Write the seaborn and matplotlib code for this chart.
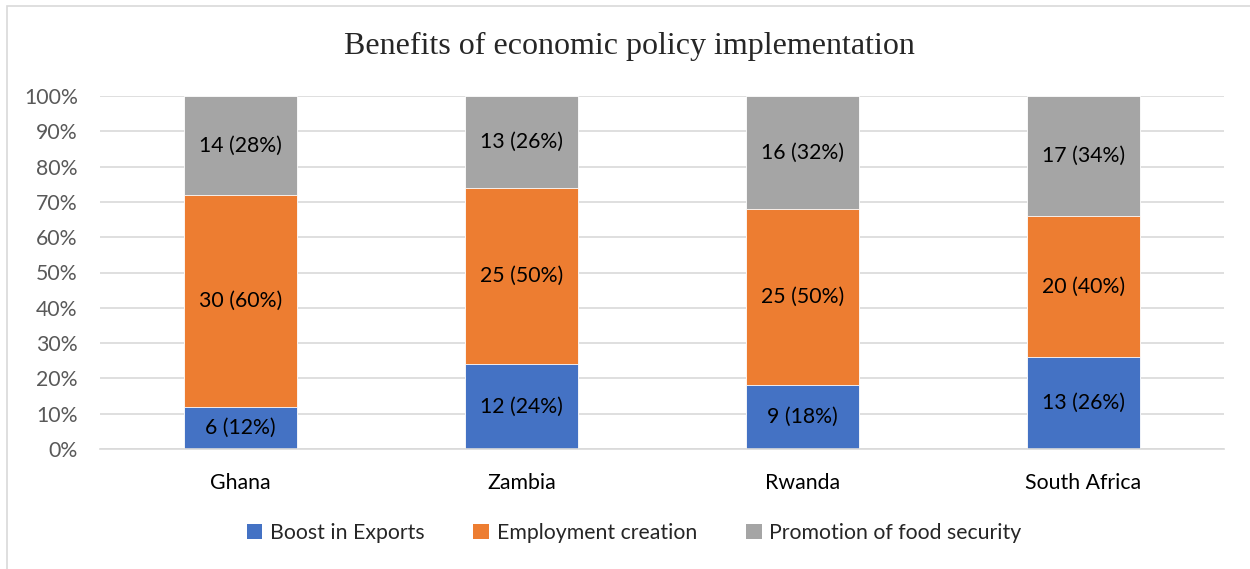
import matplotlib
matplotlib.use("Agg")
import matplotlib.pyplot as plt
from matplotlib.patches import Rectangle, Patch
import numpy as np
import pandas as pd
import seaborn as sns

countries = ["Ghana", "Zambia", "Rwanda", "South Africa"]
series_names = ["Boost in Exports", "Employment creation", "Promotion of food security"]
boost_exports = [6, 12, 9, 13]
employment = [30, 25, 25, 20]
food_security = [14, 13, 16, 17]
colors = ["#4472C4", "#ED7D31", "#A5A5A5"]
ytick_labels = ["0%", "10%", "20%", "30%", "40%", "50%", "60%", "70%", "80%", "90%", "100%"]

sns.set_theme(style="white")
plt.rcParams["font.family"] = ["Lato", "DejaVu Sans"]

counts = np.array([boost_exports, employment, food_security], dtype=float)
totals = counts.sum(axis=0)
shares = counts / totals * 100
cum = np.cumsum(shares, axis=0)

FS = 15.3

fig = plt.figure(figsize=(12.5, 5.69), dpi=100)
ax = fig.add_axes([100 / 1250, 1 - 449 / 569, 1124 / 1250, 353 / 569])

# stacked bars: draw the tallest cumulative layer first, smaller ones on top
for i in reversed(range(len(series_names))):
    df = pd.DataFrame({"country": countries, "value": cum[i]})
    sns.barplot(data=df, x="country", y="value", color=colors[i], width=0.4,
                saturation=1, ax=ax, edgecolor="white", linewidth=0.6)

# value labels centred in each segment
for i in range(len(series_names)):
    for j in range(len(countries)):
        mid = cum[i, j] - shares[i, j] / 2
        ax.text(j, mid, f"{int(counts[i, j])} ({shares[i, j]:.0f}%)",
                ha="center", va="center", fontsize=FS, color="black")

ax.set_xlim(-0.5, 3.5)
ax.set_ylim(0, 100)
ax.set_yticks(np.arange(0, 101, 10))
ax.set_yticklabels(ytick_labels)
ax.yaxis.grid(True, color="#D9D9D9", linewidth=1.2)
ax.set_axisbelow(True)
for s in ["top", "right", "left"]:
    ax.spines[s].set_visible(False)
ax.spines["bottom"].set_color("#D9D9D9")
ax.spines["bottom"].set_linewidth(1.2)
ax.tick_params(axis="y", labelsize=FS, labelcolor="#595959", length=0, pad=16)
ax.tick_params(axis="x", labelsize=FS, labelcolor="black", length=0, pad=17)
ax.set_xlabel("")
ax.set_ylabel("")

fig.text(629 / 1250, 1 - 46 / 569, "Benefits of economic policy implementation",
         ha="center", va="center", fontsize=23, family=["Liberation Serif", "DejaVu Serif"])

handles = [Patch(facecolor=c, edgecolor="none") for c in colors]
fig.legend(handles, series_names, loc="center", bbox_to_anchor=(634 / 1250, 1 - 533 / 569),
           ncol=3, frameon=False, fontsize=FS, handlelength=0.75, handleheight=0.75,
           handletextpad=0.35, columnspacing=2.3)

fig.patches.append(Rectangle((7 / 1250, -0.1), 1.2, 1 - 6 / 569 + 0.1,
                             transform=fig.transFigure, fill=False,
                             edgecolor="#D9D9D9", linewidth=1.2))

fig.savefig("out.png", dpi=100)
